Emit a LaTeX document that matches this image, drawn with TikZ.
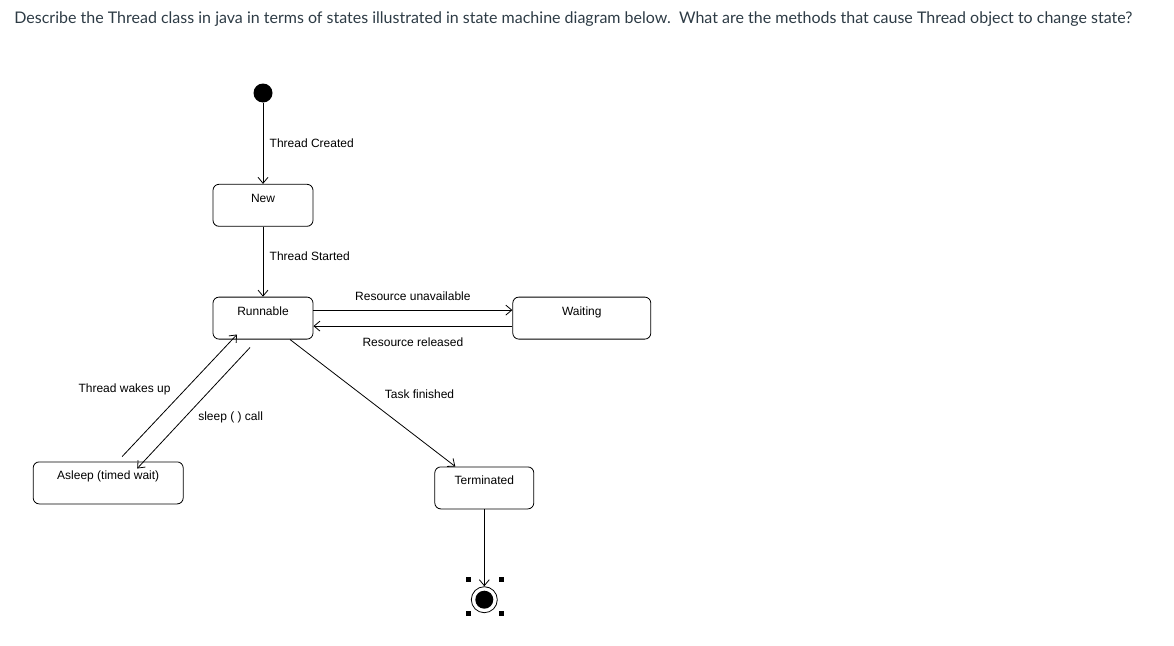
\documentclass[tikz,border=0pt]{standalone}
\usepackage{fontspec}
\setmainfont{Liberation Sans}
\newfontfamily\questionfont{Lato}
\usetikzlibrary{arrows.meta,positioning}
\definecolor{textgray}{HTML}{2D3B45}
\tikzset{
  stbox/.style={draw, rounded corners=6pt, minimum width=#1, inner ysep=6pt,
                text height=12pt, text depth=18pt, font=\fontsize{12}{14}\selectfont},
  stbox/.default=100pt,
  arr/.style={-{Straight Barb[length=6pt,width=10pt]}, line width=0.8pt},
  lbl/.style={font=\fontsize{12}{14}\selectfont}}

\begin{document}
\begin{tikzpicture}[x=1pt, y=-1pt, line width=0.8pt]
  \useasboundingbox (0,0) rectangle (1174,645);
  \node[anchor=base west, inner sep=0, text=textgray,
        font=\questionfont\fontsize{16}{19}\selectfont] (q) at (14,23)
    {Describe the Thread class in java in terms of states illustrated in state machine diagram below.\ \ What are the methods that cause Thread object to change state?};
  \node[circle, fill, inner sep=0, minimum size=19pt] (init) at (263,93) {};
  \node[stbox, below=81pt of init] (new) {New};
  \node[stbox, below=70pt of new] (run) {Runnable};
  \node[stbox=138pt, right=199pt of run] (wait) {Waiting};
  \node[stbox=150pt, below left=122pt and 29pt of run] (asleep) {Asleep (timed wait)};
  \node[stbox=99pt, below right=127pt and 121pt of run] (term) {Terminated};
  \node[circle, draw, inner sep=0, minimum size=26pt, below=77pt of term] (fin) {};
  \node[circle, fill, inner sep=0, minimum size=18pt] (fincore) at (fin) {};
  \draw[arr] (init) -- node[lbl, right, xshift=3pt]{Thread Created} (new);
  \draw[arr] (new) -- node[lbl, right, pos=0.42, xshift=3pt]{Thread Started} (run);
  \draw[arr] ([yshift=8pt]run.east) -- node[lbl, above, yshift=6pt]{Resource unavailable} ([yshift=8pt]wait.west);
  \draw[arr] ([yshift=-8pt]wait.west) -- node[lbl, below=8pt]{Resource released} ([yshift=-8pt]run.east);
  \draw[arr] ([xshift=27pt]run.south) -- node[lbl, pos=0.43, right=20pt]{Task finished} ([xshift=-29pt]term.north);
  \draw[arr] ([xshift=14pt,yshift=5pt]asleep.north) -- node[lbl, pos=0.55, left=11pt]{Thread wakes up} ([xshift=-26pt,yshift=5pt]run.south);
  \draw[arr] ([xshift=-13pt,yshift=-8pt]run.south) -- node[lbl, pos=0.58, right=10pt]{sleep ( ) call} ([xshift=29pt,yshift=-7pt]asleep.north);
  \draw[arr] (term) -- (fin);
  % selection handles
  \foreach \dx/\dy in {-16/-20.5, 17/-20.5, -16/13.5, 17/13.5}
    \fill ([shift={(\dx-2.5,\dy-2.5)}]fin.center) rectangle +(5,5);
\end{tikzpicture}
\end{document}
